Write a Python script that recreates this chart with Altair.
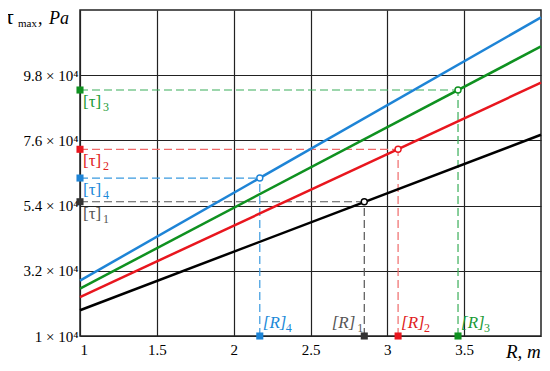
import altair as alt
import pandas as pd

# ---- data ----
series = ["1", "2", "3", "4"]
line_colors = ["#000000", "#e8161e", "#0f9120", "#1e84d6"]
dash_colors = ["#555555", "#f06a6a", "#3aae5a", "#3a9ae0"]
label_colors = ["#555555", "#e02020", "#1a9a34", "#1a88d8"]
marker_colors = ["#333333", "#e8161e", "#0f9120", "#1e84d6"]

r_start = 1.0
r_end = 4.0
tau_at_start = [1.87e4, 2.31e4, 2.60e4, 2.87e4]
tau_at_end = [7.79e4, 9.55e4, 1.077e5, 1.175e5]
allow_R = [2.85, 3.07, 3.46, 2.17]
allow_tau = [5.53e4, 7.30e4, 9.30e4, 6.33e4]
r_axis_base = 1.0
tau_axis_base = 1e4

x_ticks = [1, 1.5, 2, 2.5, 3, 3.5]
y_ticks = [1e4, 3.2e4, 5.4e4, 7.6e4, 9.8e4]
x_domain = [1, 4]
y_domain = [1e4, 1.2e5]

FONT = "'Liberation Serif', 'Times New Roman', 'DejaVu Serif', serif"

# ---- tables ----
rows = []
for i, s in enumerate(series):
    rows.append({"s": s, "R": r_start, "tau": tau_at_start[i], "c": line_colors[i]})
    rows.append({"s": s, "R": r_end, "tau": tau_at_end[i], "c": line_colors[i]})
lines_df = pd.DataFrame(rows)

pts_df = pd.DataFrame({
    "s": series,
    "R": allow_R,
    "tau": allow_tau,
    "R0": [r_axis_base] * 4,
    "tau0": [tau_axis_base] * 4,
    "lc": line_colors,
    "dc": dash_colors,
    "tc": label_colors,
    "mc": marker_colors,
    "tlab": ["[τ]"] * 4,
    "rlab": ["[R]"] * 4,
})

xs = alt.Scale(domain=x_domain, nice=False, zero=False)
ys = alt.Scale(domain=y_domain, nice=False, zero=False)

X = alt.X("R:Q", scale=xs, axis=alt.Axis(values=x_ticks, format="~g", title=None,
                                          ticks=False, domain=False, grid=True,
                                          labelFont=FONT, labelFontSize=15,
                                          labelColor="#000", labelPadding=6,
                                          gridColor="#222", gridWidth=1.2))
Y = alt.Y("tau:Q", scale=ys, axis=alt.Axis(values=y_ticks, title=None,
                                            labelExpr="datum.value == 10000 ? '1 × 10⁴' : format(datum.value / 10000, '.1f') + ' × 10⁴'",
                                            ticks=False, domain=False, grid=True,
                                            labelFont=FONT, labelFontSize=15,
                                            labelColor="#000", labelPadding=2,
                                            gridColor="#222", gridWidth=1.2))

base = alt.Chart(lines_df).mark_line(strokeWidth=2.5).encode(
    x=X, y=Y, detail="s:N", color=alt.Color("c:N", scale=None)
)

pts = alt.Chart(pts_df)

dash_h = pts.mark_rule(strokeDash=[8, 4], strokeWidth=1.2).encode(
    x=alt.X("R0:Q", scale=xs), x2="R:Q", y=alt.Y("tau:Q", scale=ys),
    color=alt.Color("dc:N", scale=None))
dash_v = pts.mark_rule(strokeDash=[8, 4], strokeWidth=1.2).encode(
    x=alt.X("R:Q", scale=xs), y=alt.Y("tau0:Q", scale=ys), y2="tau:Q",
    color=alt.Color("dc:N", scale=None))

sq_left = pts.mark_square(size=50, opacity=1).encode(
    x=alt.X("R0:Q", scale=xs), y=alt.Y("tau:Q", scale=ys),
    color=alt.Color("mc:N", scale=None))
sq_bottom = pts.mark_square(size=50, opacity=1).encode(
    x=alt.X("R:Q", scale=xs), y=alt.Y("tau0:Q", scale=ys),
    color=alt.Color("mc:N", scale=None))

circles = pts.mark_point(shape="circle", size=36, fill="white", fillOpacity=1,
                         strokeWidth=1.4, opacity=1).encode(
    x=alt.X("R:Q", scale=xs), y=alt.Y("tau:Q", scale=ys),
    stroke=alt.Stroke("lc:N", scale=None))

tau_lab = pts.mark_text(font=FONT, fontSize=17, align="left", baseline="middle",
                        dx=3, dy=12).encode(
    x=alt.X("R0:Q", scale=xs), y=alt.Y("tau:Q", scale=ys), text="tlab:N",
    color=alt.Color("tc:N", scale=None))
tau_sub = pts.mark_text(font=FONT, fontSize=12, align="left", baseline="middle",
                        dx=23, dy=17).encode(
    x=alt.X("R0:Q", scale=xs), y=alt.Y("tau:Q", scale=ys), text="s:N",
    color=alt.Color("tc:N", scale=None))

r_right = pts.transform_filter("datum.s != '1'")
r_left = pts.transform_filter("datum.s == '1'")

r_lab = r_right.mark_text(font=FONT, fontSize=17, fontStyle="italic", align="left",
                          baseline="middle", dx=3, dy=-13).encode(
    x=alt.X("R:Q", scale=xs), y=alt.Y("tau0:Q", scale=ys), text="rlab:N",
    color=alt.Color("tc:N", scale=None))
r_sub = r_right.mark_text(font=FONT, fontSize=12, align="left", baseline="middle",
                          dx=26, dy=-8).encode(
    x=alt.X("R:Q", scale=xs), y=alt.Y("tau0:Q", scale=ys), text="s:N",
    color=alt.Color("tc:N", scale=None))
r1_lab = r_left.mark_text(font=FONT, fontSize=17, fontStyle="italic", align="right",
                          baseline="middle", dx=-9, dy=-13).encode(
    x=alt.X("R:Q", scale=xs), y=alt.Y("tau0:Q", scale=ys), text="rlab:N",
    color=alt.Color("tc:N", scale=None))
r1_sub = r_left.mark_text(font=FONT, fontSize=12, align="right", baseline="middle",
                          dx=-1, dy=-8).encode(
    x=alt.X("R:Q", scale=xs), y=alt.Y("tau0:Q", scale=ys), text="s:N",
    color=alt.Color("tc:N", scale=None))

# ---- axis titles ----
def title_piece(txt, x, y, size, italic=False):
    return alt.Chart(pd.DataFrame({"t": [txt]})).mark_text(
        font=FONT, fontSize=size, fontStyle="italic" if italic else "normal",
        align="left", baseline="alphabetic", color="#000").encode(
        x=alt.value(x), y=alt.value(y), text="t:N")

titles = [
    title_piece("τ", -75, 14, 22),
    title_piece("max", -62, 17, 11),
    title_piece(",", -42, 14, 18, True),
    title_piece("Pa", -31, 14, 18, True),
    title_piece("R, m", 426, 348, 19, True),
]

chart = alt.layer(
    dash_h, dash_v, base, sq_left, sq_bottom, circles,
    tau_lab, tau_sub, r_lab, r_sub, r1_lab, r1_sub, *titles
).properties(
    width=461, height=326,
    autosize=alt.AutoSizeParams(type="none"),
    padding={"left": 72, "top": 2, "right": 1, "bottom": 27},
).configure_view(stroke="#222", strokeWidth=1.5)

chart.save("out.html", embed_options={"renderer": "svg", "actions": False})
